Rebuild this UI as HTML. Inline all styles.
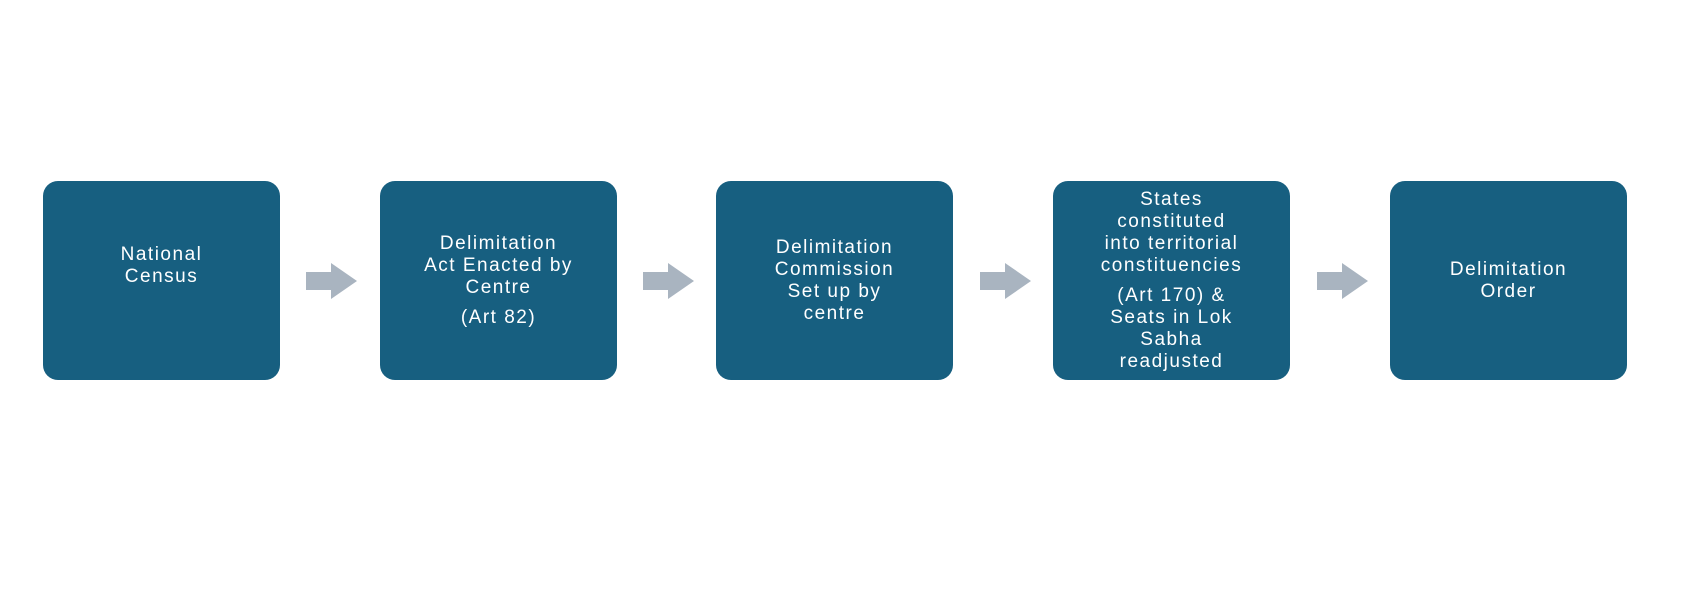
<!DOCTYPE html>
<html><head><style>
body{margin:0;width:1697px;height:589px;background:#fff;position:relative;overflow:hidden;font-family:"Liberation Sans",sans-serif}
.b{position:absolute;top:181px;width:237px;height:199px;background:#175f80;border-radius:15px;color:#fff;display:flex;flex-direction:column;justify-content:center;align-items:center;text-align:center;font-size:19px;line-height:22px;letter-spacing:1.5px;box-sizing:border-box}
.b p{margin:0}.b p+p{margin-top:8px}
svg{position:absolute;top:263px}
</style></head><body>
<div class="b" style="left:43px;padding-bottom:30px"><p>National<br>Census</p></div>
<div class="b" style="left:380px"><p>Delimitation<br>Act Enacted by<br>Centre</p><p>(Art 82)</p></div>
<div class="b" style="left:716px"><p>Delimitation<br>Commission<br>Set up by<br>centre</p></div>
<div class="b" style="left:1053px"><p>States<br>constituted<br>into territorial<br>constituencies</p><p>(Art 170) &amp;<br>Seats in Lok<br>Sabha<br>readjusted</p></div>
<div class="b" style="left:1390px"><p>Delimitation<br>Order</p></div>
<svg style="left:306px" width="52" height="37"><polygon points="0,9 25,9 25,0 51,18 25,36 25,27 0,27" fill="#a9b4c0"/></svg>
<svg style="left:643px" width="52" height="37"><polygon points="0,9 25,9 25,0 51,18 25,36 25,27 0,27" fill="#a9b4c0"/></svg>
<svg style="left:980px" width="52" height="37"><polygon points="0,9 25,9 25,0 51,18 25,36 25,27 0,27" fill="#a9b4c0"/></svg>
<svg style="left:1317px" width="52" height="37"><polygon points="0,9 25,9 25,0 51,18 25,36 25,27 0,27" fill="#a9b4c0"/></svg>
</body></html>
